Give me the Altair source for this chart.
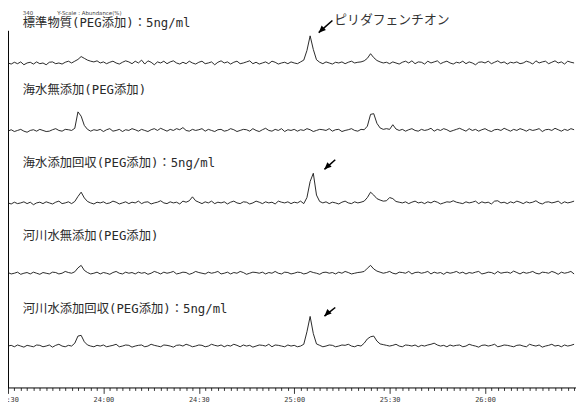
import altair as alt
import pandas as pd

# time axis: seconds (23:30 = 1410 s), one sample per second
start_sec = 1410
end_sec = 1590
view_end_sec = 1588.6   # right edge of the visible window

trace_names = ["標準物質", "海水無添加", "海水添加回収", "河川水無添加", "河川水添加回収"]
# baseline of each stacked trace (abundance %)
offsets = [90.9, 72.0, 51.7, 32.0, 11.6]

# signal relative to baseline, in 0.1 % units, one value per second from 23:30
trace1 = [
    0, -3, 2, -2, 3, -5, 0, 2, -3, 3,
    -2, 0, -5, 2, 3, -2, 0, -3, 2, 5,
    0, 5, 10, 18, 13, 8, 5, 3, 6, 0,
    3, -2, 2, 5, 0, -3, 2, 6, 3, -2,
    5, 0, 8, -3, 6, 2, -5, 3, 0, 5,
    -2, 3, 6, 0, -3, 2, -2, 5, 0, -3,
    2, 5, -2, 0, 3, -5, 2, 6, 0, 3,
    -3, 2, 5, -2, 0, 3, 6, -2, 2, -3,
    0, 3, -2, 5, 2, -3, 0, 2, -2, 3,
    0, -2, 3, 8, 35, 76, 38, 9, 2, -2,
    3, 0, -3, 2, 0, 3, -2, 2, 5, 0,
    2, 3, 6, 13, 26, 15, 7, 3, 0, 2,
    -2, 3, 0, -3, 2, 5, 0, 6, -2, 3,
    2, -3, 5, 0, 3, 6, -2, 2, 5, 0,
    -3, 2, 0, 5, -2, 3, 0, -5, 2, 3,
    0, 5, -2, 2, 6, 0, 3, -3, 2, 0,
    3, -2, 0, 5, 2, -3, 6, 0, 3, 5,
    -2, 2, 6, 0, 3, -3, 5, 2, 0, 3,
    2,
]
trace2 = [
    -2, 2, -3, 0, 3, -2, -5, 0, 2, -2,
    3, 0, -3, -2, 2, 5, 0, -2, 3, 2,
    0, 6, 52, 40, 14, 3, -2, 2, 0, 3,
    -3, 2, 5, -2, 0, 3, -3, 2, 0, 5,
    2, -2, 3, 0, -3, 2, 5, 0, 6, 2,
    -2, 3, 0, 5, 2, 8, 0, -2, 3, 0,
    2, 5, -2, 3, 0, -3, 2, 3, -2, 0,
    5, 2, -3, 0, 3, 2, -2, 5, 0, -3,
    2, 6, 0, -2, 3, 0, 5, -3, 2, 0,
    3, -2, 2, 0, 5, 2, -3, 0, 3, 2,
    0, 5, -2, 2, 3, -3, 0, 2, 5, 0,
    -2, 3, 2, 12, 45, 47, 20, 7, 3, 5,
    3, 16, 4, 0, 3, -2, 2, 5, 0, -2,
    3, 0, 2, 6, -2, 3, 0, 5, 2, -3,
    0, 3, 6, 2, -2, 5, 0, 3, -2, 2,
    5, 0, -3, 2, 3, 0, 6, 2, -2, 3,
    0, 5, 2, -2, 3, 0, 2, 5, -3, 2,
    3, 0, 6, 2, -2, 3, 0, 5, 2, 0,
    2,
]
trace3 = [
    0, -3, 2, -2, 0, 3, -2, 2, -5, 0,
    2, -2, 3, 0, -3, 2, 5, -2, 0, 3,
    -2, 4, 18, 30, 14, 4, 0, -3, 2, 0,
    3, -2, 0, 5, 2, -3, 0, 3, -2, 2,
    0, 5, -2, 2, 3, -3, 0, 2, 6, 0,
    -2, 3, 0, 2, -3, 5, 2, 6, 17, 6,
    2, -2, 3, 0, 5, -2, 2, 0, 3, -3,
    2, 5, 0, -2, 3, 2, -3, 0, 5, 2,
    -2, 3, 0, 2, -3, 5, 2, 0, 3, -2,
    2, 0, 5, -2, 15, 60, 83, 22, 4, 0,
    3, -2, 2, 0, -3, 2, 5, 0, -2, 3,
    0, 2, 5, 15, 30, 22, 12, 8, 5, 6,
    15, 12, 4, 2, 0, 3, -2, 2, 5, 0,
    2, -2, 3, 0, 5, 2, -3, 0, 3, 2,
    6, 2, 0, -2, 3, 0, 2, 5, -2, 3,
    0, 2, -3, 5, 6, 0, 2, -2, 3, 0,
    5, 2, -2, 3, 0, 2, 6, 0, -3, 2,
    3, 0, 2, 5, -2, 3, 0, 2, 5, 0,
    2,
]
trace4 = [
    2, -2, 0, 3, -3, 0, 2, -2, 3, 0,
    -3, 2, 0, -2, 3, 2, -2, 0, 5, 2,
    0, 4, 15, 22, 8, 2, -2, 0, 3, -2,
    2, 0, -3, 2, 5, 0, -2, 3, 0, 2,
    -2, 3, 0, 2, -3, 0, 5, 2, -2, 3,
    0, 2, 5, -2, 0, 3, 2, -3, 0, 5,
    2, 0, -2, 3, 0, 2, 5, -2, 0, 3,
    -2, 2, 0, 5, 2, -3, 0, 3, 2, 0,
    3, -2, 2, 0, 5, 0, -2, 3, 2, -2,
    0, 3, 2, -2, 0, 5, 2, 0, -3, 2,
    3, 0, 2, -2, 3, 0, 5, 2, -2, 0,
    2, 3, 5, 14, 22, 12, 6, 3, 0, 2,
    5, 0, -2, 3, 2, 0, 5, -2, 2, 3,
    0, 2, 5, -2, 3, 0, 2, -3, 3, 0,
    2, 5, 0, 3, -2, 2, 0, 3, 5, -2,
    0, 3, 2, -2, 5, 0, 2, 3, 0, 6,
    2, -2, 3, 0, 2, 5, 0, -2, 3, 2,
    0, 5, 2, -3, 3, 0, 2, 5, -2, 3,
    0,
]
trace5 = [
    0, 2, -2, 3, 0, -3, 2, 0, -2, 3,
    2, -2, 0, 3, -3, 2, 5, 0, -2, 2,
    0, 8, 28, 30, 12, 3, 0, -2, 2, 0,
    3, -2, 0, 2, 5, -2, 0, 3, 2, -3,
    0, 2, 3, -2, 0, 5, 2, 0, -2, 3,
    2, 0, -3, 2, 3, 0, 5, 2, -2, 0,
    3, 2, -2, 0, 5, 2, 0, 3, -2, 2,
    0, 5, 2, -2, 3, 0, 2, -3, 0, 3,
    2, 0, 5, -2, 3, 2, 0, -2, 3, 0,
    2, -2, 0, 5, 40, 83, 35, 6, 2, -2,
    0, 3, 2, -2, 0, 3, 2, 5, 0, -2,
    2, 0, 8, 20, 26, 28, 14, 6, 4, 2,
    0, 2, 5, 0, -2, 3, 2, 0, 3, -2,
    2, 0, 3, 5, 8, 3, 0, 2, -2, 3,
    0, 2, 3, -2, 0, 5, 2, 0, -3, 2,
    3, 0, 2, 5, -2, 0, 3, 2, 0, -2,
    2, 3, 0, -2, 5, 2, 0, 3, -3, 0,
    2, 5, 0, 2, -2, 3, 0, 2, 5, -2,
    0,
]
traces = [trace1, trace2, trace3, trace4, trace5]

# trace labels (anchor in time seconds / abundance %)
label_texts = [
    "標準物質(PEG添加)：5ng/ml",
    "海水無添加(PEG添加)",
    "海水添加回収(PEG添加)：5ng/ml",
    "河川水無添加(PEG添加)",
    "河川水添加回収(PEG添加)：5ng/ml",
]
label_t = [1414.65, 1414.65, 1414.65, 1414.65, 1414.65]
label_v = [102.2, 83.4, 63.0, 42.5, 22.1]

# compound annotation
annot_text = ["ピリダフェンチオン"]
annot_t = [1512.6]
annot_v = [102.9]

# arrows: tail -> head
arrow_t1 = [1512.0, 1512.9, 1512.9]
arrow_v1 = [102.8, 63.8, 22.4]
arrow_t2 = [1507.7, 1509.5, 1509.5]
arrow_v2 = [99.4, 61.1, 20.0]

# small header texts
header_texts = ["340", "Y-Scale : Abundance(%)"]
header_t = [1414.65, 1425.5]
header_v = [105.0, 105.0]

x_ticks = list(range(start_sec, int(view_end_sec) + 1, 2))
y_ticks = [0, 20, 40, 60, 80, 100] + list(range(82, 100, 2))

rows = []
for name, off, vals in zip(trace_names, offsets, traces):
    for i, d in enumerate(vals):
        rows.append({"t": start_sec + i, "v": off + d / 10.0, "trace": name})
df = pd.DataFrame(rows)
df = df[df["t"] <= view_end_sec]

labels_df = pd.DataFrame({"t": label_t, "v": label_v, "text": label_texts})
annot_df = pd.DataFrame({"t": annot_t, "v": annot_v, "text": annot_text})
arrow_df = pd.DataFrame({"t": arrow_t1, "v": arrow_v1, "t2": arrow_t2, "v2": arrow_v2})
header_df = pd.DataFrame({"t": header_t, "v": header_v, "text": header_texts})

x_scale = alt.Scale(domain=[start_sec, view_end_sec], nice=False, zero=False)
y_scale = alt.Scale(domain=[0, 100], nice=False, zero=False)

label_expr = (
    "datum.value % 30 == 0 ? (floor(datum.value / 60) + ':' + "
    "(datum.value % 60 == 0 ? '00' : '' + (datum.value % 60))) : ''"
)

x_axis = alt.Axis(
    values=x_ticks,
    tickCount=1000,
    labelExpr=label_expr,
    tickSize={"condition": {"test": "datum.value % 30 == 0", "value": 6}, "value": 3},
    title=None,
    grid=False,
    labelFont="DejaVu Sans Mono",
    labelFontSize=7,
    labelColor="#333333",
    labelOverlap=False,
    labelFlush=False,
    labelPadding=2,
    domainColor="#000000",
    tickColor="#000000",
    domainWidth=1,
    tickWidth=0.8,
)
y_axis = alt.Axis(
    values=y_ticks,
    tickCount=1000,
    labels=False,
    tickSize={"condition": {"test": "datum.value % 20 == 0", "value": 6}, "value": 3},
    title=None,
    grid=False,
    domainColor="#000000",
    tickColor="#000000",
    domainWidth=1,
    tickWidth=0.8,
)

lines = alt.Chart(df).mark_line(color="#111111", strokeWidth=0.9, interpolate="linear").encode(
    x=alt.X("t:Q", scale=x_scale, axis=x_axis),
    y=alt.Y("v:Q", scale=y_scale, axis=y_axis),
    detail="trace:N",
)

labels = alt.Chart(labels_df).mark_text(
    align="left", baseline="middle", fontSize=12.5,
    font="DejaVu Sans Mono, Noto Sans CJK JP", color="#2a2a2a",
).encode(
    x=alt.X("t:Q", scale=x_scale), y=alt.Y("v:Q", scale=y_scale), text="text:N"
)

annot = alt.Chart(annot_df).mark_text(
    align="left", baseline="middle", fontSize=13,
    font="Noto Sans CJK JP", color="#333333",
).encode(
    x=alt.X("t:Q", scale=x_scale), y=alt.Y("v:Q", scale=y_scale), text="text:N"
)

headers = alt.Chart(header_df).mark_text(
    align="left", baseline="middle", fontSize=5.5,
    font="DejaVu Sans", color="#444444",
).encode(
    x=alt.X("t:Q", scale=x_scale), y=alt.Y("v:Q", scale=y_scale), text="text:N"
)

arrow_lines = alt.Chart(arrow_df).mark_rule(color="#000000", strokeWidth=1.6).encode(
    x=alt.X("t:Q", scale=x_scale), y=alt.Y("v:Q", scale=y_scale),
    x2="t2:Q", y2="v2:Q",
)
arrow_heads = alt.Chart(arrow_df).mark_point(
    shape="M0,0L0.75,1.7L-0.75,1.7Z", filled=True, color="#000000",
    size=70, angle=226, opacity=1,
).encode(
    x=alt.X("t2:Q", scale=x_scale), y=alt.Y("v2:Q", scale=y_scale),
)

chart = alt.layer(lines, labels, annot, headers, arrow_lines, arrow_heads).properties(
    width=576,
    height=362,
    autosize=alt.AutoSizeParams(type="none"),
    padding={"left": 0, "top": 20, "right": 0, "bottom": 17},
    background="white",
).configure_view(stroke=None)

chart.save("out.html", embed_options={"renderer": "svg", "actions": False})
